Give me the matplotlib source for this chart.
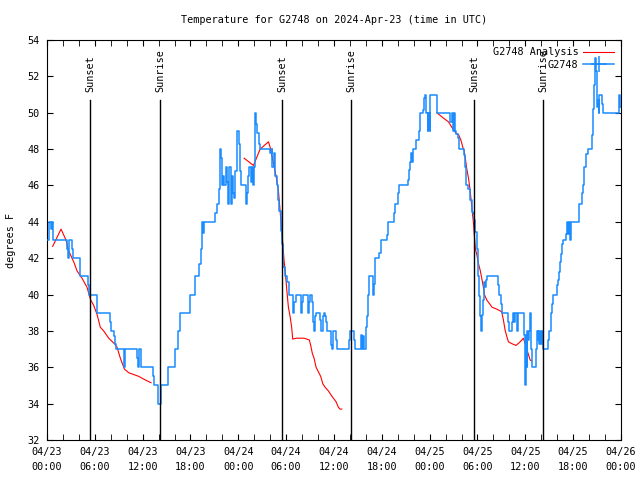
"""Station G2748 temperature: observed (stepped) vs analysis, with sunset/sunrise markers."""
import numpy as np
import pandas as pd
import matplotlib
matplotlib.use('Agg')
import matplotlib.pyplot as plt
import matplotlib.dates as mdates
from matplotlib.lines import Line2D

START = pd.Timestamp('2024-04-23 00:00')

# observed G2748 temperature (hours since 04/23 00:00 UTC, deg F)
obs_hours = [0.15, 0.3, 0.5, 0.6, 0.8, 2.55, 2.65, 2.75, 3.1, 3.25, 4.1, 5.15, 5.3, 6.3, 7.9, 8.05,
             8.35, 8.5, 8.65, 9.65, 9.75, 11.3, 11.4, 11.6, 11.75, 13.3, 13.4, 13.9, 14.3, 15.2, 16.0,
             16.4, 16.69, 17.9, 18.6, 19.1, 19.28, 19.41, 19.5, 19.62, 19.74, 21.08, 21.29, 21.59,
             21.75, 21.84, 22.0, 22.13, 22.26, 22.42, 22.55, 22.76, 22.88, 23.05, 23.18, 23.3, 23.47,
             23.59, 23.8, 23.89, 24.14, 24.22, 24.35, 24.93, 25.06, 25.27, 25.39, 25.56, 25.73, 25.85,
             25.98, 26.15, 26.27, 26.4, 26.56, 26.73, 27.99, 28.2, 28.28, 28.45, 28.62, 28.82, 29.03,
             29.16, 29.33, 29.45, 29.58, 29.65, 29.82, 30.15, 30.4, 30.9, 31.03, 31.2, 31.91, 32.03,
             32.16, 32.74, 32.91, 33.04, 33.2, 33.33, 33.46, 33.58, 33.71, 34.29, 34.42, 34.59, 34.71,
             34.88, 35.0, 35.17, 35.59, 35.71, 35.84, 36.26, 36.43, 37.89, 38.02, 38.56, 38.69, 39.36,
             39.44, 39.52, 39.69, 39.82, 39.98, 40.15, 40.32, 40.44, 40.86, 40.95, 41.07, 41.2, 41.7,
             41.87, 42.62, 42.75, 43.5, 43.67, 44.09, 44.21, 45.34, 45.43, 45.55, 45.64, 45.76, 45.89,
             45.97, 46.3, 46.6, 46.81, 47.14, 47.27, 47.39, 47.56, 47.73, 47.85, 47.98, 48.1, 48.98,
             50.57, 50.78, 50.91, 51.07, 51.2, 51.33, 51.53, 51.74, 52.25, 52.41, 52.58, 52.87, 53.08,
             53.29, 53.4, 53.57, 53.74, 53.91, 54.03, 54.16, 54.33, 54.45, 54.53, 54.66, 54.79, 54.91,
             55.04, 55.16, 56.63, 56.75, 56.92, 57.04, 57.88, 58.0, 58.38, 58.51, 58.63, 58.72, 59.01,
             59.14, 59.89, 60.02, 60.1, 60.18, 60.27, 60.39, 60.52, 60.6, 60.69, 60.81, 61.35, 61.44,
             61.56, 61.65, 61.77, 61.9, 62.02, 62.15, 62.27, 62.9, 63.03, 63.2, 63.36, 63.53, 63.7,
             64.03, 64.16, 64.28, 64.41, 64.53, 64.66, 64.78, 65.08, 65.2, 65.33, 65.45, 65.58, 65.7,
             66.67, 66.79, 67.09, 67.21, 67.34, 67.63, 67.8, 68.34, 68.47, 68.59, 68.72, 68.8, 68.88,
             68.97, 69.09, 69.18, 69.3, 69.64, 69.8, 71.69, 71.81, 71.9, 71.98]
obs_temps = [43, 44, 43.6, 44, 43, 42.5, 42, 43, 42.5, 42, 41, 40.5, 40, 39, 38.5, 38,
             37.7, 37.3, 37, 36, 37, 36.5, 36, 37, 36, 35.5, 35, 34, 35, 36, 37,
             38, 39, 40, 41, 41.7, 42.5, 43.5, 44, 43.4, 44, 44.5, 45, 45.8,
             48, 47.5, 46, 46.5, 46, 47, 46.2, 45, 47, 45, 46.5, 45.6, 45.3,
             46.8, 48.3, 49, 48.3, 46.8, 46, 45, 45.6, 46.5, 47, 46.2, 47, 46,
             47, 50, 49.4, 48.9, 48.3, 48, 47.8, 48, 47, 47.8, 46.5, 46, 45.2,
             44.6, 43.5, 42.8, 42.3, 41.5, 41, 40.7, 40, 39, 39.6, 40, 39, 39.6,
             40, 39, 39.6, 40, 39.6, 38.5, 38, 38.8, 39, 38.6, 38, 38.8, 39,
             38.8, 38.5, 38, 37.2, 37, 38, 37.5, 37, 37.5, 38, 37.5, 37, 37.5,
             37.8, 37, 37.7, 37, 38.2, 38.8, 40, 41, 40.5, 40, 40.6, 42, 42.3,
             43, 43.3, 44, 44.5, 45, 45.6, 46, 46.3, 46.85, 47.3, 47.8, 47.3, 47.8,
             48, 48.5, 49, 50, 50.15, 50.8, 51, 50, 49, 50, 49, 51, 50,
             49.5, 50, 49, 50, 49, 48.85, 48.6, 48, 47.7, 47, 46, 45.8, 45.2,
             44.55, 44.5, 44.1, 43.45, 42.5, 41, 39.9, 38.8, 38, 38.9, 39.7, 40.7, 40.4,
             40.8, 41, 40.5, 40, 39.5, 39, 38.5, 38, 38.5, 39, 38.5, 39, 38,
             39, 37.8, 35, 37.8, 36, 38, 37.5, 38, 39, 37, 36, 37, 38,
             37.5, 38, 37.3, 38, 37.3, 38, 37, 37.5, 38, 39, 39.5, 40, 40,
             40.5, 40.8, 41.25, 41.8, 42.25, 42.8, 43, 43.35, 44, 43.35, 44, 43, 44,
             44.3, 45, 45.6, 46, 47, 47.75, 48, 48.75, 50.2, 51.5, 52.4, 53, 52.3,
             50.3, 50.7, 50, 51, 50.5, 50, 50.3, 51, 50.3, 50.3]

# G2748 analysis (NaN separates the three analysis runs)
ana_hours = [0.71, 1.76, 2.38, 2.72, 3.35, 3.77, 4.39, 5.02, 5.48, 5.86, 6.28, 6.69, 7.11, 7.74,
             8.45, 8.79, 9.2, 9.71, 10.25, 10.88, 11.5, 12.34, 13.05, 18.0,
             24.72, 25.9, 26.73, 27.78, 27.99, 28.41, 28.74, 29.03, 29.24, 29.45, 29.56, 29.73, 29.9,
             30.07, 30.28, 30.49, 30.69, 30.82, 31.32, 32.24, 32.91, 33.08, 33.29, 33.5, 33.75, 34.04,
             34.33, 34.59, 34.88, 35.3, 35.59, 35.92, 36.26, 36.55, 36.76, 36.97, 42.0,
             48.9, 49.74, 50.36, 50.78, 51.33, 51.62, 51.91, 52.16, 52.33, 52.5, 52.66, 52.87, 53.08,
             53.29, 53.5, 53.57, 53.74, 53.91, 54.12, 54.33, 54.53, 54.74, 54.87, 55.16, 55.5, 55.83,
             56.42, 57.04, 57.25, 57.46, 57.67, 57.88, 58.3, 58.84, 59.35, 59.76, 59.97, 60.18, 60.39,
             60.6, 60.77]
ana_temps = [42.65, 43.6, 43.0, 42.4, 41.8, 41.3, 40.9, 40.4, 39.7, 39.4, 38.9, 38.2, 38.0, 37.6,
             37.3, 37.1, 36.5, 35.9, 35.7, 35.6, 35.5, 35.3, 35.15, np.nan,
             47.5, 47.1, 48.0, 48.4, 48.1, 47.2, 46.5, 45.7, 44.6, 43.4, 42.9, 41.9, 41.2,
             40.3, 39.3, 38.8, 38.2, 37.55, 37.6, 37.6, 37.5, 37.2, 36.75, 36.5, 36.0, 35.75,
             35.5, 35.1, 34.9, 34.7, 34.5, 34.3, 34.1, 33.8, 33.7, 33.7, np.nan,
             50.0, 49.7, 49.5, 49.2, 48.85, 48.8, 48.5, 48.1, 47.9, 47.4, 46.9, 46.4, 45.7,
             44.8, 43.9, 43.45, 42.5, 42.2, 41.7, 41.35, 40.9, 40.4, 40.0, 39.7, 39.5, 39.3,
             39.2, 39.05, 38.6, 38.05, 37.7, 37.4, 37.3, 37.2, 37.4, 37.6, 37.3, 37.0, 36.7,
             36.4, 36.35]

# sun events (hours since 04/23 00:00 UTC)
sun_hours = [5.43, 14.22, 29.53, 38.18, 53.62, 62.27]
sun_labels = ['Sunset', 'Sunrise', 'Sunset', 'Sunrise', 'Sunset', 'Sunrise']

FONT = 'DejaVu Sans Mono'
FS = 7.3
RED = '#ff0000'
BLUE = '#1a8cff'


def to_time(hours):
    return START + pd.to_timedelta(np.asarray(hours, dtype=float), unit='h')


fig = plt.figure(figsize=(6.4, 4.8), dpi=100)
ax = fig.add_axes([47 / 640, 40 / 480, 574 / 640, 400 / 480])

ax.plot(to_time(ana_hours), ana_temps, color=RED, linewidth=0.8, zorder=2)
ax.plot(to_time(obs_hours), obs_temps, color=BLUE, linewidth=1.1, drawstyle='steps-post', zorder=3)

# sunset / sunrise markers
for h, lab in zip(sun_hours, sun_labels):
    t = to_time([h])[0]
    ax.plot([t, t], [32, 50.7], color='black', linewidth=1.0, zorder=4)
    ax.text(t, 51.15, lab, rotation=90, ha='center', va='bottom',
            fontsize=FS, fontfamily=FONT, zorder=5)

ax.set_xlim(START, START + pd.Timedelta(hours=72))
ax.set_ylim(32, 54)
ax.set_yticks(np.arange(32, 55, 2))
ax.xaxis.set_major_locator(mdates.HourLocator(byhour=[0, 6, 12, 18]))
ax.xaxis.set_minor_locator(mdates.HourLocator(byhour=range(0, 24, 2)))
ax.xaxis.set_major_formatter(mdates.DateFormatter('%m/%d\n%H:%M'))

ax.tick_params(axis='both', which='both', direction='in', top=True, right=True,
               labelsize=FS, colors='black')
ax.tick_params(axis='x', which='major', length=4, pad=5)
ax.tick_params(axis='x', which='minor', length=4)
ax.tick_params(axis='y', which='major', length=4, pad=5)
for label in ax.get_xticklabels() + ax.get_yticklabels():
    label.set_fontfamily(FONT)
    label.set_linespacing(1.65)
for spine in ax.spines.values():
    spine.set_linewidth(0.8)

ax.set_ylabel('degrees F', fontsize=FS, fontfamily=FONT)
ax.yaxis.set_label_coords(-31 / 574, 0.5)

ax.text(0.5, 1.05, 'Temperature for G2748 on 2024-Apr-23 (time in UTC)',
        transform=ax.transAxes, ha='center', va='center', fontsize=FS, fontfamily=FONT)

handles = [Line2D([], [], color=RED, linewidth=0.8),
           Line2D([], [], color=BLUE, linewidth=1.1, marker='+', markersize=11,
                  markeredgewidth=1.1)]
leg = ax.legend(handles, ['G2748 Analysis', 'G2748'], loc='upper right',
                bbox_to_anchor=(1.0, 1.0), frameon=False, markerfirst=False,
                handlelength=3.0, handletextpad=0.5, labelspacing=0.25,
                borderaxespad=0.3, prop={'family': FONT, 'size': FS})
leg.set_zorder(6)

plt.savefig('out.png', dpi=100)
